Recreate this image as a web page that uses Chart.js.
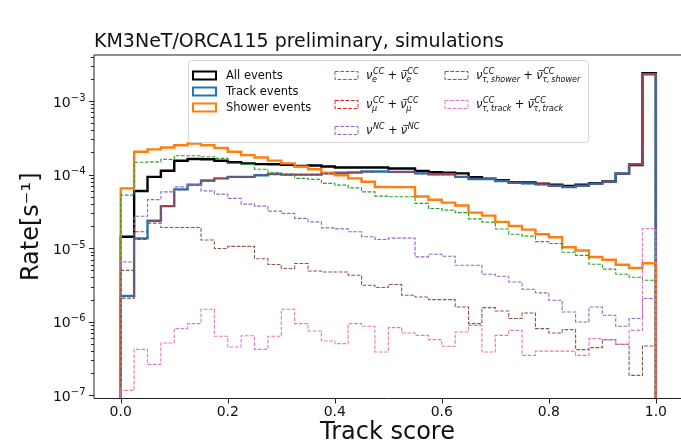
<!DOCTYPE html>
<html>
<head>
<meta charset="utf-8">
<title>Track score distribution</title>
<script src="https://cdn.jsdelivr.net/npm/chart.js@4.4.0/dist/chart.umd.min.js"></script>
<style>
  html, body { margin: 0; padding: 0; background: #fff; }
</style>
</head>
<body>
<canvas id="chart" width="681" height="447"></canvas>
<script>
// Track score histogram: 40 bins of 0.025 from 0 to 1
const binWidth = 0.025;
const nBins = 40;

// Rate per bin [s^-1]
const allEvents = [
  1.43e-5, 6.0e-5, 9.3e-5, 1.13e-4, 1.54e-4, 1.63e-4, 1.62e-4, 1.54e-4, 1.47e-4, 1.42e-4,
  1.39e-4, 1.38e-4, 1.36e-4, 1.31e-4, 1.33e-4, 1.29e-4, 1.25e-4, 1.25e-4, 1.25e-4, 1.25e-4,
  1.21e-4, 1.21e-4, 1.12e-4, 1.08e-4, 1.06e-4, 1.04e-4, 9.2e-5, 8.8e-5, 8.4e-5, 7.9e-5,
  7.8e-5, 7.55e-5, 7.3e-5, 7.0e-5, 7.3e-5, 7.65e-5, 8.1e-5, 1.03e-4, 1.35e-4, 2.38e-3
];
const trackEvents = [
  2.25e-6, 1.36e-5, 2.36e-5, 3.73e-5, 6.3e-5, 7.3e-5, 8.3e-5, 8.9e-5, 9.3e-5, 9.3e-5,
  9.8e-5, 1.02e-4, 1.0e-4, 1.0e-4, 1.0e-4, 1.04e-4, 1.06e-4, 1.07e-4, 1.1e-4, 1.1e-4,
  1.09e-4, 1.09e-4, 1.04e-4, 1.01e-4, 1.01e-4, 9.3e-5, 8.7e-5, 8.7e-5, 8.2e-5, 7.75e-5,
  7.6e-5, 7.36e-5, 7.05e-5, 6.76e-5, 7.05e-5, 7.5e-5, 7.98e-5, 1.03e-4, 1.38e-4, 2.31e-3
];
const showerEvents = [
  6.5e-5, 2.04e-4, 2.2e-4, 2.34e-4, 2.5e-4, 2.65e-4, 2.5e-4, 2.3e-4, 2.04e-4, 1.84e-4,
  1.71e-4, 1.55e-4, 1.42e-4, 1.28e-4, 1.18e-4, 1.06e-4, 9.8e-5, 8.9e-5, 8.0e-5, 6.8e-5,
  6.76e-5, 6.76e-5, 5.05e-5, 4.56e-5, 4.16e-5, 3.81e-5, 3.04e-5, 2.77e-5, 2.28e-5, 2.0e-5,
  1.79e-5, 1.55e-5, 1.41e-5, 1.03e-5, 9.3e-6, 7.6e-6, 6.96e-6, 5.97e-6, 5.38e-6, 6.25e-6
];
const nueCC = [
  5.26e-5, 1.47e-4, 1.49e-4, 1.61e-4, 1.8e-4, 1.8e-4, 1.75e-4, 1.66e-4, 1.42e-4, 1.38e-4,
  1.18e-4, 1.06e-4, 1.02e-4, 8.9e-5, 8.6e-5, 7.6e-5, 7.2e-5, 6.6e-5, 5.83e-5, 5.1e-5,
  5.0e-5, 5.0e-5, 4.06e-5, 3.47e-5, 3.29e-5, 3.04e-5, 2.5e-5, 2.26e-5, 1.82e-5, 1.55e-5,
  1.46e-5, 1.23e-5, 1.16e-5, 8.8e-6, 8.0e-6, 6.05e-6, 5.2e-6, 4.43e-6, 4.03e-6, 3.67e-6
];
const numuCC = [
  2.1e-6, 1.32e-5, 2.33e-5, 3.68e-5, 6.22e-5, 7.2e-5, 8.15e-5, 8.84e-5, 9.25e-5, 9.25e-5,
  9.75e-5, 1.01e-4, 9.85e-5, 9.9e-5, 9.9e-5, 1.03e-4, 1.05e-4, 1.06e-4, 1.09e-4, 1.1e-4,
  1.08e-4, 1.08e-4, 1.03e-4, 1.0e-4, 1.0e-4, 9.2e-5, 8.6e-5, 8.65e-5, 8.1e-5, 7.7e-5,
  7.55e-5, 7.3e-5, 7.0e-5, 6.7e-5, 7.0e-5, 7.45e-5, 7.9e-5, 1.02e-4, 1.37e-4, 2.29e-3
];
const nuNC = [
  6.5e-6, 2.72e-5, 4.57e-5, 5.83e-5, 6.82e-5, 7.31e-5, 6.02e-5, 5.43e-5, 4.75e-5, 3.97e-5,
  3.73e-5, 3.19e-5, 2.97e-5, 2.54e-5, 2.28e-5, 1.89e-5, 1.83e-5, 1.67e-5, 1.43e-5, 1.31e-5,
  1.37e-5, 1.37e-5, 7.62e-6, 8.28e-6, 7.78e-6, 5.87e-6, 5.87e-6, 4.43e-6, 4.16e-6, 3.48e-6,
  2.77e-6, 2.47e-6, 1.96e-6, 1.36e-6, 9.94e-7, 1.59e-6, 1.23e-6, 8.7e-7, 1.11e-6, 2.07e-6
];
const nutauShower = [
  5.0e-6, 1.67e-5, 2.19e-5, 1.91e-5, 1.91e-5, 1.91e-5, 1.29e-5, 9.9e-6, 1.06e-5, 1.06e-5,
  7.2e-6, 6.0e-6, 5.3e-6, 6.2e-6, 4.91e-6, 4.76e-6, 4.76e-6, 4.29e-6, 3.14e-6, 2.92e-6,
  3.21e-6, 2.3e-6, 2.17e-6, 2.0e-6, 2.0e-6, 1.59e-6, 9.46e-7, 1.56e-6, 1.4e-6, 1.11e-6,
  1.32e-6, 8.08e-7, 7.05e-7, 7.83e-7, 4.19e-7, 4.46e-7, 5.73e-7, 4.94e-7, 1.87e-7, 4.69e-7
];
const nutauTrack = [
  1.17e-7, 4.22e-7, 2.64e-7, 5.15e-7, 8.07e-7, 9.45e-7, 1.48e-6, 6.35e-7, 4.55e-7, 6.45e-7,
  4.22e-7, 6.35e-7, 1.48e-6, 9.45e-7, 7.5e-7, 5.48e-7, 5.05e-7, 9.45e-7, 8.7e-7, 3.89e-7,
  8.34e-7, 7.04e-7, 6.55e-7, 5.73e-7, 4.65e-7, 7.26e-7, 8.95e-7, 3.88e-7, 6.55e-7, 7.66e-7,
  3.5e-7, 4.0e-7, 4.0e-7, 4.0e-7, 3.5e-7, 5.9e-7, 5.73e-7, 4.94e-7, 7.66e-7, 1.85e-5
];

const xTickValues = [0, 0.2, 0.4, 0.6, 0.8, 1.0];
const yTickExponents = [-7, -6, -5, -4, -3];

// legend: solid outlines for the selections, dashed for the interaction channels
const series = [
  { label: 'All events', data: allEvents, color: '#000000', dashed: false },
  { label: 'Track events', data: trackEvents, color: '#1f77b4', dashed: false },
  { label: 'Shower events', data: showerEvents, color: '#ff7f0e', dashed: false },
  { label: 'nue CC', data: nueCC, color: '#2ca02c', dashed: true, math: { sub: 'e', sup: 'CC' } },
  { label: 'numu CC', data: numuCC, color: '#d62728', dashed: true, math: { sub: 'μ', sup: 'CC' } },
  { label: 'NC', data: nuNC, color: '#9467bd', dashed: true, math: { sub: null, sup: 'NC' } },
  { label: 'nutau CC shower', data: nutauShower, color: '#8c564b', dashed: true, math: { sub: 'τ,\u2009shower', sup: 'CC' } },
  { label: 'nutau CC track', data: nutauTrack, color: '#e377c2', dashed: true, math: { sub: 'τ,\u2009track', sup: 'CC' } }
];

const FONT = '"DejaVu Sans", sans-serif';
const FLOOR = 1e-12; // closes each outline below the axis like a step histogram

// bin contents -> step outline points (left edge of each bin)
function stepPoints(values) {
  const pts = [{ x: 0, y: FLOOR }];
  values.forEach((v, i) => pts.push({ x: i * binWidth, y: v }));
  pts.push({ x: nBins * binWidth, y: FLOOR });
  return pts;
}

// spines and matplotlib-like tick marks, y labels as 10^n
const axisDecor = {
  id: 'axisDecor',
  afterDatasetsDraw(chart) {
    const { ctx, chartArea: a, scales: { x, y } } = chart;
    ctx.save();
    ctx.strokeStyle = '#222';
    ctx.fillStyle = '#111';
    ctx.lineWidth = 1;
    ctx.beginPath();
    ctx.moveTo(a.right, a.top);
    ctx.lineTo(a.left, a.top);
    ctx.lineTo(a.left, a.bottom);
    ctx.lineTo(a.right, a.bottom);
    ctx.stroke();

    ctx.beginPath();
    xTickValues.forEach(v => {
      const px = Math.round(x.getPixelForValue(v)) + 0.5;
      ctx.moveTo(px, a.bottom);
      ctx.lineTo(px, a.bottom + 5);
    });
    for (let e = -8; e <= -2; e++) {
      for (let m = 1; m <= 9; m++) {
        const v = m * Math.pow(10, e);
        if (v < y.min || v > y.max) continue;
        const py = Math.round(y.getPixelForValue(v)) + 0.5;
        ctx.moveTo(a.left, py);
        ctx.lineTo(a.left - (m === 1 ? 5 : 3), py);
      }
    }
    ctx.stroke();

    ctx.textBaseline = 'alphabetic';
    ctx.textAlign = 'left';
    yTickExponents.forEach(e => {
      const py = y.getPixelForValue(Math.pow(10, e));
      const sup = '\u2212' + Math.abs(e);
      ctx.font = `10px ${FONT}`;
      const supW = ctx.measureText(sup).width;
      ctx.font = `14px ${FONT}`;
      const baseW = ctx.measureText('10').width;
      const right = a.left - 8.5;
      ctx.fillText('10', right - supW - baseW, py + 5.5);
      ctx.font = `10px ${FONT}`;
      ctx.fillText(sup, right - supW, py - 0.5);
    });
    ctx.restore();
  }
};

// nu symbol with optional bar, subscript and superscript; returns the new x
function drawNu(ctx, x, base, size, sub, sup, bar) {
  ctx.font = `italic ${size}px ${FONT}`;
  ctx.fillText('ν', x, base);
  const w = ctx.measureText('ν').width;
  if (bar) {
    ctx.beginPath();
    ctx.moveTo(x + 0.22 * size, base - 0.74 * size);
    ctx.lineTo(x + w + 0.08 * size, base - 0.74 * size);
    ctx.lineWidth = 0.8;
    ctx.stroke();
  }
  const small = size * 0.7;
  ctx.font = `italic ${small}px ${FONT}`;
  let adv = 0;
  if (sup) {
    ctx.fillText(sup, x + w + 0.6, base - 0.46 * size);
    adv = ctx.measureText(sup).width + 0.6;
  }
  if (sub) {
    ctx.fillText(sub, x + w - 0.4, base + 0.26 * size);
    adv = Math.max(adv, ctx.measureText(sub).width - 0.4);
  }
  return x + w + adv;
}

const legendBox = {
  id: 'legendBox',
  afterDatasetsDraw(chart) {
    const ctx = chart.ctx;
    const size = 11.5;
    // handle positions: three columns
    const slots = [[193, 75.5], [193, 91.5], [193, 107.5], [335, 75.5], [335, 104.5], [335, 130.5], [445, 75.5], [445, 104.5]];
    ctx.save();
    ctx.beginPath();
    ctx.roundRect(188.5, 60.5, 400, 82, 3);
    ctx.fillStyle = 'rgba(255,255,255,0.85)';
    ctx.fill();
    ctx.strokeStyle = '#d4d4d4';
    ctx.lineWidth = 1;
    ctx.stroke();

    series.forEach((s, i) => {
      const [hx, hy] = slots[i];
      ctx.strokeStyle = s.color;
      ctx.lineWidth = s.dashed ? 1 : 2;
      ctx.setLineDash(s.dashed ? [3.7, 1.6] : []);
      ctx.strokeRect(hx, hy - 4, 23, 8);
      ctx.setLineDash([]);
      ctx.fillStyle = '#111';
      ctx.strokeStyle = '#111';
      if (!s.math) {
        ctx.font = `${size}px ${FONT}`;
        ctx.textBaseline = 'middle';
        ctx.fillText(s.label, hx + 33, hy + 0.5);
      } else {
        ctx.textBaseline = 'alphabetic';
        const base = hy + 3.5;
        let cx = drawNu(ctx, hx + 31, base, size, s.math.sub, s.math.sup, false);
        ctx.font = `${size}px ${FONT}`;
        cx += 0.28 * size;
        ctx.fillText('+', cx, base);
        cx += ctx.measureText('+').width + 0.28 * size;
        drawNu(ctx, cx, base, size, s.math.sub, s.math.sup, true);
      }
    });
    ctx.restore();
  }
};

new Chart(document.getElementById('chart').getContext('2d'), {
  type: 'line',
  data: {
    datasets: series.map((s, i) => ({
      label: s.label,
      data: stepPoints(s.data),
      borderColor: s.color,
      borderWidth: s.dashed ? 1.1 : 2.4,
      borderDash: s.dashed ? [3.7, 1.6] : [],
      stepped: 'before',
      pointRadius: 0,
      fill: false,
      order: series.length - i
    }))
  },
  options: {
    responsive: false,
    animation: false,
    events: [],
    devicePixelRatio: 1,
    layout: { padding: 0 },
    plugins: {
      legend: { display: false },
      tooltip: { enabled: false },
      title: {
        display: true,
        text: 'KM3NeT/ORCA115 preliminary, simulations',
        align: 'start',
        fullSize: false,
        color: '#111',
        font: { family: FONT, size: 19, weight: 'normal' },
        padding: { top: 31, bottom: 1.2 }
      }
    },
    scales: {
      x: {
        type: 'linear',
        min: -0.05,
        max: 1.047,
        grid: { display: false, drawTicks: false },
        border: { display: false },
        afterBuildTicks: s => { s.ticks = xTickValues.map(v => ({ value: v })); },
        afterFit: s => { s.height = 48.5; },
        ticks: {
          autoSkip: false,
          maxRotation: 0,
          padding: 5,
          color: '#111',
          font: { family: FONT, size: 14 },
          callback: v => v.toFixed(1)
        },
        title: {
          display: true,
          text: 'Track score',
          color: '#111',
          font: { family: FONT, size: 24 },
          padding: { top: 0, bottom: 0 }
        }
      },
      y: {
        type: 'logarithmic',
        min: Math.pow(10, -7.042),
        max: Math.pow(10, -2.375),
        grid: { display: false, drawTicks: false },
        border: { display: false },
        ticks: { display: false },
        afterFit: s => { s.width = 94; },
        title: {
          display: true,
          text: 'Rate[s⁻¹]',
          color: '#111',
          font: { family: FONT, size: 24 },
          padding: { top: 17.6, bottom: 0 }
        }
      }
    }
  },
  plugins: [axisDecor, legendBox]
});
</script>
</body>
</html>
